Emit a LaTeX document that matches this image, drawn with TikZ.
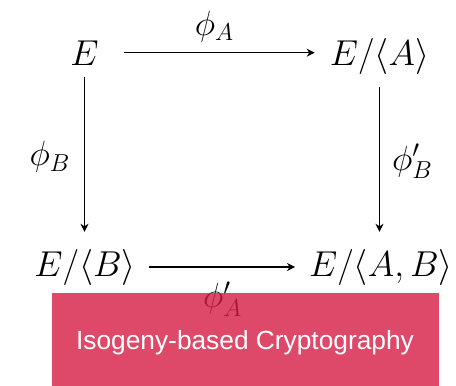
\RequirePackage{fix-cm}
\documentclass[tikz,border=0pt]{standalone}
\usepackage{fontspec}
\newfontfamily\bannerfont{Liberation Sans}
\usetikzlibrary{arrows.meta}

\definecolor{boxred}{RGB}{214,28,68}

\tikzset{
    obj/.style={anchor=base, inner sep=0pt, font=\fontsize{36}{42}\selectfont},
    lbl/.style={inner sep=0pt, font=\fontsize{35}{42}\selectfont},
    map/.style={-{Stealth[length=8pt,width=8pt,inset=2.5pt]}, line width=1.2pt},
    banner/.style={fill=boxred, fill opacity=0.8, inner sep=0pt,
        minimum width=387pt, minimum height=93pt},
    bannertext/.style={text=white, font=\bannerfont\fontsize{26.3}{30}\selectfont}
}

\begin{document}
\begin{tikzpicture}[x=1pt, y=-1pt]
    \useasboundingbox (0,0) rectangle (456,386);

    % curves
    \node[obj] (E)   at (84.5,65)  {$E$};
    \node[obj] (EA)  at (379.5,65) {$E/\langle A\rangle$};
    \node[obj] (EB)  at (85,276)   {$E/\langle B\rangle$};
    \node[obj] (EAB) at (381,276)  {$E/\langle A,B\rangle$};

    % isogenies
    \draw[map, shorten <=25pt, shorten >=15pt] (E.east) -- (E.east -| EA.west)
        node[lbl, midway, above=10pt] (phiA) {$\phi_A$};
    \draw[map, shorten <=12pt, shorten >=17pt] (E.south) -- (E.south |- EB.north)
        node[lbl, midway, left=14pt] (phiB) {$\phi_B$};
    \draw[map, shorten <=13pt, shorten >=17pt] (EA.south) -- (EA.south |- EAB.north)
        node[lbl, midway, right=12pt] (phiB2) {$\phi'_B$};
    \draw[map, shorten <=13pt, shorten >=14pt] (EB.east) -- (EB.east -| EAB.west)
        node[lbl, midway, below=14pt] (phiA2) {$\phi'_A$};

    % banner over the bottom
    \node[banner] (box) at (245.5,339.5) {};
    \node[bannertext] (title) at (245,343) {Isogeny-based Cryptography};
\end{tikzpicture}
\end{document}
